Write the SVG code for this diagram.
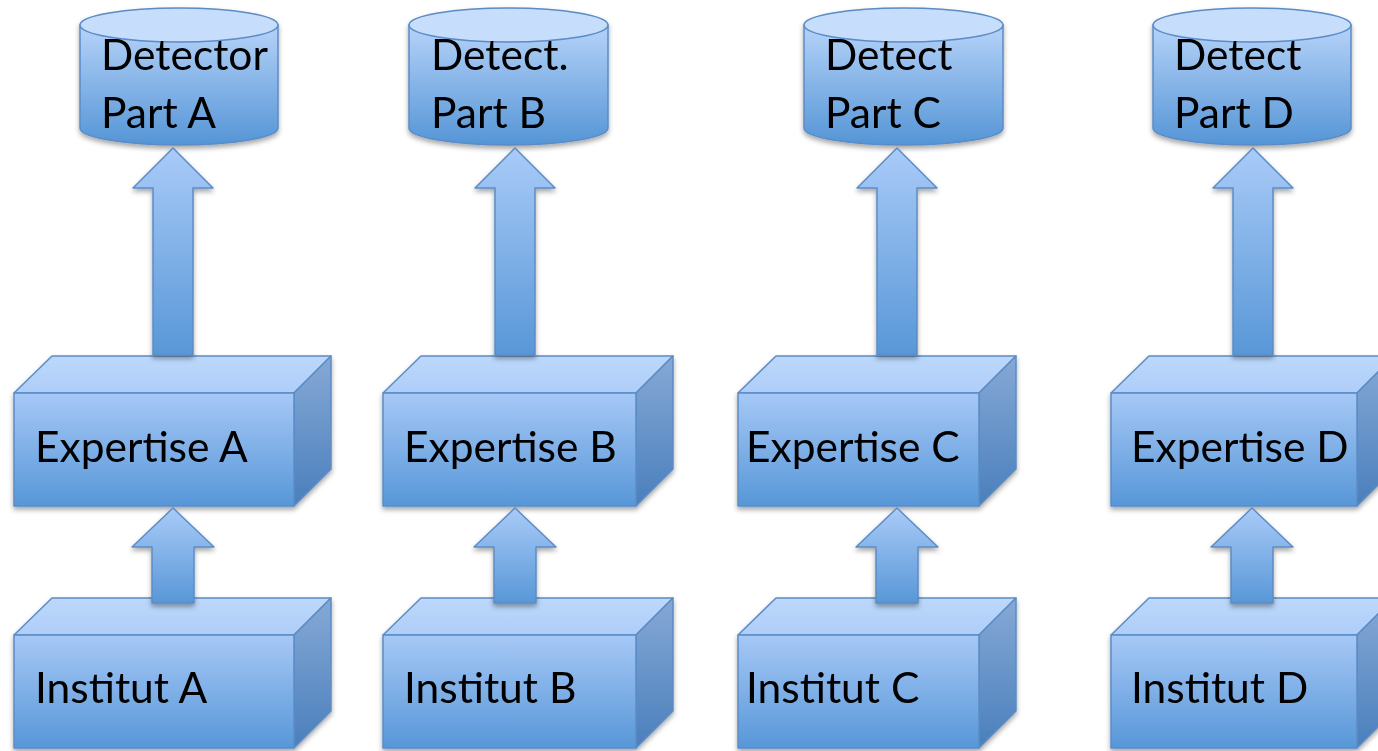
<svg xmlns="http://www.w3.org/2000/svg" width="1378" height="751" viewBox="0 0 1378 751">
  <defs>
    <linearGradient id="gFront" x1="0" y1="0" x2="0" y2="1">
      <stop offset="0" stop-color="#a6c8f6"/>
      <stop offset="1" stop-color="#5797d8"/>
    </linearGradient>
    <linearGradient id="gTop" x1="0" y1="0" x2="0" y2="1">
      <stop offset="0" stop-color="#bcd8fb"/>
      <stop offset="1" stop-color="#aecdf8"/>
    </linearGradient>
    <linearGradient id="gSide" x1="0" y1="0" x2="0" y2="1">
      <stop offset="0" stop-color="#86a9d6"/>
      <stop offset="1" stop-color="#4a7fbc"/>
    </linearGradient>
    <linearGradient id="gCyl" x1="0" y1="0" x2="0" y2="1">
      <stop offset="0" stop-color="#b6d3f9"/>
      <stop offset="1" stop-color="#5595d6"/>
    </linearGradient>
    <linearGradient id="gArrow" x1="0" y1="0" x2="0" y2="1">
      <stop offset="0" stop-color="#a9cbf8"/>
      <stop offset="1" stop-color="#5897d7"/>
    </linearGradient>
    <filter id="shadow" x="-10%" y="-10%" width="125%" height="130%">
      <feDropShadow dx="0" dy="3" stdDeviation="2.5" flood-color="#000" flood-opacity="0.35"/>
    </filter>
  </defs>
  <style>
    .stroke { stroke: #5b8cc6; stroke-width: 1.5; stroke-linejoin: round; }
    .front { fill: url(#gFront); }
    .top { fill: url(#gTop); }
    .side { fill: url(#gSide); }
    .cyl { fill: url(#gCyl); }
    .cyltop { fill: #c6ddfb; }
    .arrow { fill: url(#gArrow); }
    .shape { filter: url(#shadow); }
    text { font-family: Lato, "Open Sans", "Liberation Sans", sans-serif; font-size: 42.5px; fill: #000; }
  </style>
  <rect width="1378" height="751" fill="#ffffff"/>

  <!-- Detector parts (cylinders) -->
  <g id="detA" class="shape">
    <path class="cyl stroke" d="M80,25 L80,128 A99,17 0 0 0 278,128 L278,25 Z"/>
    <ellipse class="cyltop stroke" cx="179" cy="25" rx="99" ry="17"/>
    <text x="101" y="70">Detector</text>
    <text x="101" y="128">Part A</text>
  </g>
  <g id="detB" class="shape">
    <path class="cyl stroke" d="M409,25 L409,128 A99.5,17 0 0 0 608,128 L608,25 Z"/>
    <ellipse class="cyltop stroke" cx="508.5" cy="25" rx="99.5" ry="17"/>
    <text x="431" y="70">Detect.</text>
    <text x="431" y="128">Part B</text>
  </g>
  <g id="detC" class="shape">
    <path class="cyl stroke" d="M804,25 L804,128 A99.5,17 0 0 0 1003,128 L1003,25 Z"/>
    <ellipse class="cyltop stroke" cx="903.5" cy="25" rx="99.5" ry="17"/>
    <text x="825" y="70">Detect</text>
    <text x="825" y="128">Part C</text>
  </g>
  <g id="detD" class="shape">
    <path class="cyl stroke" d="M1153,25 L1153,128 A99,17 0 0 0 1351,128 L1351,25 Z"/>
    <ellipse class="cyltop stroke" cx="1252" cy="25" rx="99" ry="17"/>
    <text x="1174" y="70">Detect</text>
    <text x="1174" y="128">Part D</text>
  </g>

  <!-- Expertise boxes -->
  <g id="expA" class="shape">
    <polygon class="top stroke" points="14,393 52,356 331,356 294,393"/>
    <polygon class="side stroke" points="294,393 331,356 331,469 294,506"/>
    <rect class="front stroke" x="14" y="393" width="280" height="113"/>
    <text x="35" y="462">Expertise A</text>
  </g>
  <g id="expB" class="shape">
    <polygon class="top stroke" points="383,393 421,356 673,356 636,393"/>
    <polygon class="side stroke" points="636,393 673,356 673,469 636,506"/>
    <rect class="front stroke" x="383" y="393" width="253" height="113"/>
    <text x="404" y="462">Expertise B</text>
  </g>
  <g id="expC" class="shape">
    <polygon class="top stroke" points="738,393 776,356 1016,356 979,393"/>
    <polygon class="side stroke" points="979,393 1016,356 1016,469 979,506"/>
    <rect class="front stroke" x="738" y="393" width="241" height="113"/>
    <text x="746" y="462">Expertise C</text>
  </g>
  <g id="expD" class="shape">
    <polygon class="top stroke" points="1111,393 1149,356 1394,356 1357,393"/>
    <polygon class="side stroke" points="1357,393 1394,356 1394,469 1357,506"/>
    <rect class="front stroke" x="1111" y="393" width="246" height="113"/>
    <text x="1131" y="462">Expertise D</text>
  </g>

  <!-- Institut boxes -->
  <g id="instA" class="shape">
    <polygon class="top stroke" points="14,635 52,598 331,598 294,635"/>
    <polygon class="side stroke" points="294,635 331,598 331,711 294,748"/>
    <rect class="front stroke" x="14" y="635" width="280" height="113"/>
    <text x="35" y="703">Institut A</text>
  </g>
  <g id="instB" class="shape">
    <polygon class="top stroke" points="383,635 421,598 673,598 636,635"/>
    <polygon class="side stroke" points="636,635 673,598 673,711 636,748"/>
    <rect class="front stroke" x="383" y="635" width="253" height="113"/>
    <text x="404" y="703">Institut B</text>
  </g>
  <g id="instC" class="shape">
    <polygon class="top stroke" points="738,635 776,598 1016,598 979,635"/>
    <polygon class="side stroke" points="979,635 1016,598 1016,711 979,748"/>
    <rect class="front stroke" x="738" y="635" width="241" height="113"/>
    <text x="746" y="703">Institut C</text>
  </g>
  <g id="instD" class="shape">
    <polygon class="top stroke" points="1111,635 1149,598 1394,598 1357,635"/>
    <polygon class="side stroke" points="1357,635 1394,598 1394,711 1357,748"/>
    <rect class="front stroke" x="1111" y="635" width="246" height="113"/>
    <text x="1131" y="703">Institut D</text>
  </g>

  <!-- Block arrows: Institut -> Expertise -> Detector part -->
  <g id="connectors" class="shape">
    <polygon class="arrow stroke" points="173,148 213,188 193,188 193,355 153,355 153,188 133,188"/>
    <polygon class="arrow stroke" points="515,148 555,188 535,188 535,355 495,355 495,188 475,188"/>
    <polygon class="arrow stroke" points="897,148 937,188 917,188 917,355 877,355 877,188 857,188"/>
    <polygon class="arrow stroke" points="1253,148 1293,188 1273,188 1273,355 1233,355 1233,188 1213,188"/>

    <polygon class="arrow stroke" points="173,508 214,547 194,547 194,603 152,603 152,547 132,547"/>
    <polygon class="arrow stroke" points="515,508 556,547 536,547 536,603 494,603 494,547 474,547"/>
    <polygon class="arrow stroke" points="897,508 938,547 918,547 918,603 876,603 876,547 856,547"/>
    <polygon class="arrow stroke" points="1252,508 1293,547 1273,547 1273,603 1231,603 1231,547 1211,547"/>
  </g>
</svg>
